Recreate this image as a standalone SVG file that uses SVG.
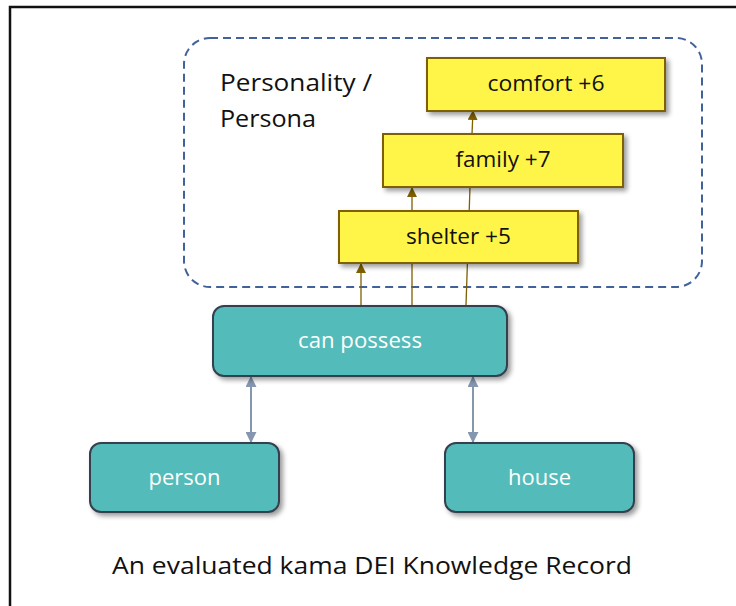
<svg xmlns="http://www.w3.org/2000/svg" width="736" height="606" viewBox="0 0 736 606">
<defs>
<style>
.teal{fill:#53BBB9;stroke:#36414F;stroke-width:2}
.yel{fill:#FFF54A;stroke:#7F6000;stroke-width:2}
.wt{font-family:"Open Sans","Liberation Sans",sans-serif;font-size:21px;fill:#FFFFFF;text-anchor:middle}
.bt{font-family:"Open Sans","Liberation Sans",sans-serif;font-size:21px;fill:#111111;text-anchor:middle}
.brn{stroke:#7F6000;stroke-width:1.3;fill:none}
.gry{stroke:#8496B0;stroke-width:2;fill:none}
</style>
<filter id="sh" x="-10%" y="-20%" width="130%" height="150%">
<feGaussianBlur in="SourceAlpha" stdDeviation="2.5"/>
<feOffset dx="3" dy="3" result="b"/>
<feComponentTransfer><feFuncA type="linear" slope="0.4"/></feComponentTransfer>
<feMerge><feMergeNode/><feMergeNode in="SourceGraphic"/></feMerge>
</filter>
<marker id="ab" viewBox="0 0 10 10" refX="9" refY="5" markerWidth="10" markerHeight="10" markerUnits="userSpaceOnUse" orient="auto">
<path d="M0,0 L10,5 L0,10 z" fill="#7F6000"/>
</marker>
<marker id="ag" viewBox="0 0 10 10" refX="9" refY="5" markerWidth="11" markerHeight="11" markerUnits="userSpaceOnUse" orient="auto-start-reverse">
<path d="M0,0 L10,5 L0,10 z" fill="#8496B0"/>
</marker>
</defs>
<rect width="736" height="606" fill="#FFFFFF"/>
<path d="M10,606 L10,7 L736,7" fill="none" stroke="#111111" stroke-width="2.5"/>

<g id="persona-group">
<rect x="184" y="38" width="518" height="249" rx="26" ry="26" fill="none" stroke="#41619A" stroke-width="2" stroke-dasharray="8,5"/>
<text x="220" y="91" font-family="'Open Sans','Liberation Sans',sans-serif" font-size="24" fill="#111111" textLength="152" lengthAdjust="spacingAndGlyphs">Personality /</text>
<text x="220" y="127" font-family="'Open Sans','Liberation Sans',sans-serif" font-size="24" fill="#111111" textLength="96" lengthAdjust="spacingAndGlyphs">Persona</text>
</g>

<g id="connectors">
<line class="brn" x1="412" y1="305" x2="412" y2="263"/>
<line class="brn" x1="466" y1="305" x2="470" y2="187"/>
<line class="brn" x1="361" y1="305" x2="361" y2="264" marker-end="url(#ab)"/>
<line class="brn" x1="412" y1="211" x2="412" y2="188" marker-end="url(#ab)"/>
<line class="brn" x1="472" y1="134" x2="473" y2="111" marker-end="url(#ab)"/>
<line class="gry" x1="251" y1="377" x2="251" y2="442" marker-start="url(#ag)" marker-end="url(#ag)"/>
<line class="gry" x1="473" y1="377" x2="473" y2="442" marker-start="url(#ag)" marker-end="url(#ag)"/>
</g>

<g id="shelter">
<rect class="yel" x="339" y="211" width="239" height="52" filter="url(#sh)"/>
<text class="bt" x="458.5" y="244" textLength="105" lengthAdjust="spacingAndGlyphs">shelter +5</text>
</g>
<g id="family">
<rect class="yel" x="383" y="134" width="240" height="53" filter="url(#sh)"/>
<text class="bt" x="503" y="167" textLength="95" lengthAdjust="spacingAndGlyphs">family +7</text>
</g>
<g id="comfort">
<rect class="yel" x="427" y="58" width="238" height="53" filter="url(#sh)"/>
<text class="bt" x="546" y="91" textLength="117" lengthAdjust="spacingAndGlyphs">comfort +6</text>
</g>

<g id="can-possess">
<rect class="teal" x="213" y="306" width="294" height="70" rx="11" ry="11" filter="url(#sh)"/>
<text class="wt" x="360" y="348" textLength="124" lengthAdjust="spacingAndGlyphs">can possess</text>
</g>
<g id="person">
<rect class="teal" x="90" y="443" width="189" height="69" rx="11" ry="11" filter="url(#sh)"/>
<text class="wt" x="184.5" y="485" textLength="72" lengthAdjust="spacingAndGlyphs">person</text>
</g>
<g id="house">
<rect class="teal" x="445" y="443" width="189" height="69" rx="11" ry="11" filter="url(#sh)"/>
<text class="wt" x="539.5" y="485" textLength="63" lengthAdjust="spacingAndGlyphs">house</text>
</g>

<text x="372" y="574" text-anchor="middle" font-family="'Open Sans','Liberation Sans',sans-serif" font-size="23" fill="#111111" textLength="520" lengthAdjust="spacingAndGlyphs">An evaluated kama DEI Knowledge Record</text>
</svg>
